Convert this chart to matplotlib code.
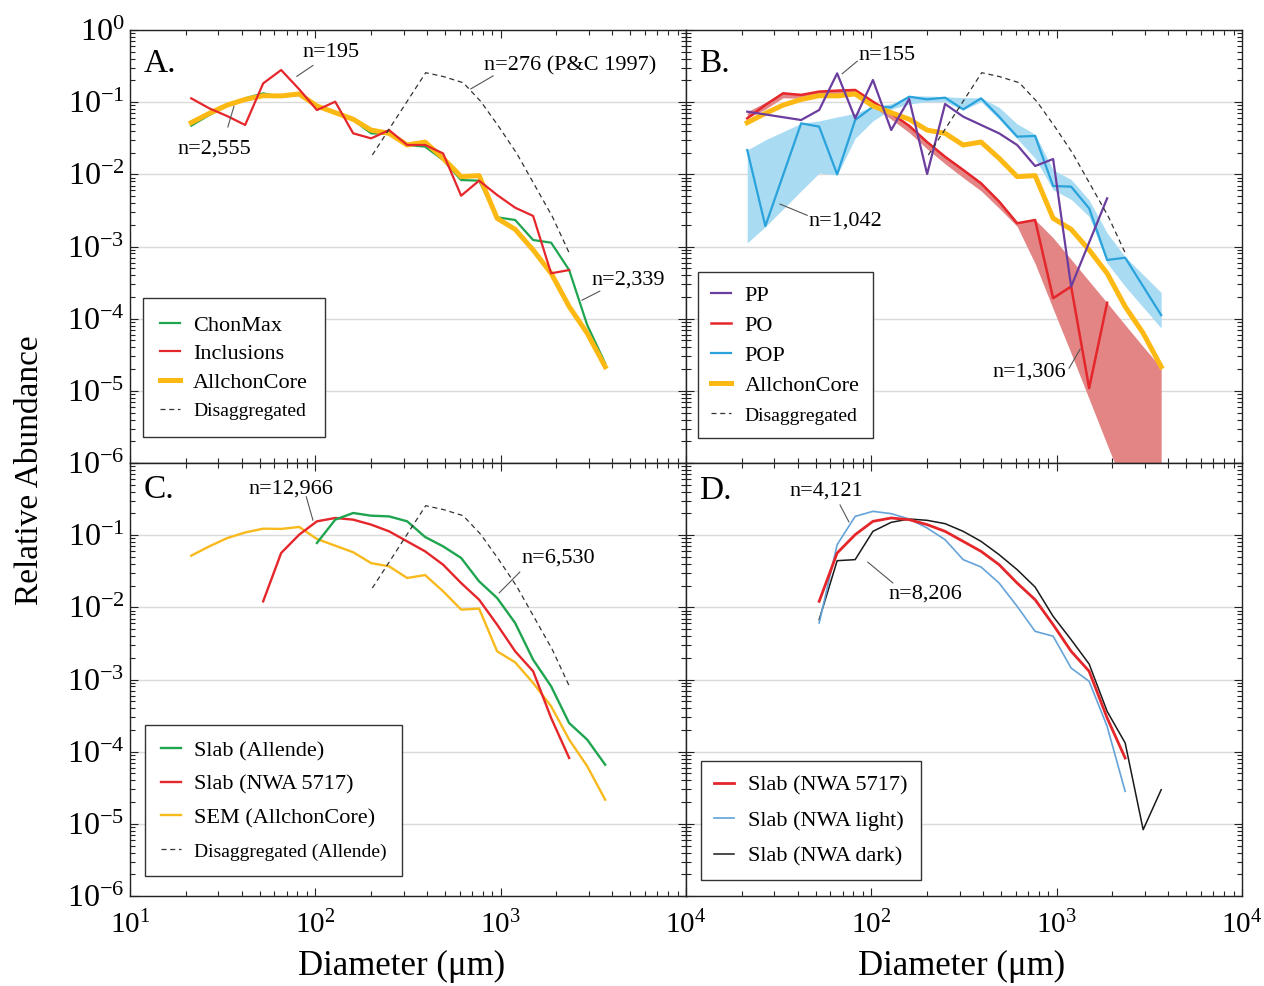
import matplotlib
matplotlib.use("Agg")
import matplotlib.pyplot as plt
from matplotlib.ticker import LogLocator, NullFormatter

plt.rcParams['font.family'] = ['Liberation Serif', 'DejaVu Serif']
plt.rcParams['mathtext.fontset'] = 'custom'
plt.rcParams['mathtext.rm'] = 'Liberation Serif'
plt.rcParams['mathtext.it'] = 'Liberation Serif:italic'
plt.rcParams['mathtext.bf'] = 'Liberation Serif:bold'

# ---------------- data ----------------
# common size bins (um)
bins = [21.4, 26.8, 33.4, 41.8, 52.3, 65.4, 81.8, 102, 128, 160, 200, 250,
        313, 391, 489, 612, 765, 957, 1197, 1497, 1872, 2342, 2929, 3664]

# Panel A
allchon_y = [0.052, 0.070, 0.091, 0.109, 0.123, 0.122, 0.130, 0.0885, 0.0715, 0.058,
             0.041, 0.037, 0.0255, 0.028, 0.0167, 0.0093, 0.0096, 0.00246, 0.00173,
             0.000895, 0.000425, 0.000147, 6.3e-5, 2.16e-5]
chonmax_y = [0.0472, 0.0664, 0.0885, 0.113, 0.1325, 0.119, 0.1257, 0.0885, 0.070, 0.0566,
             0.037, 0.0362, 0.0255, 0.0242, 0.0158, 0.00834, 0.00817, 0.00254, 0.00233,
             0.00123, 0.00113, 0.000472, 8.2e-5, 2.4e-5]
incl_x = bins[:22]
incl_y = [0.113, 0.082, 0.0643, 0.0483, 0.182, 0.279, 0.151, 0.0778, 0.1016, 0.037,
          0.0315, 0.041, 0.0255, 0.0255, 0.0195, 0.00506, 0.00817, 0.00517, 0.00345,
          0.00265, 0.000425, 0.000472]
disagg_x = [203, 394, 492, 628, 783, 977, 1221, 1524, 1901, 2372]
disagg_y = [0.0185, 0.256, 0.226, 0.186, 0.1016, 0.0458, 0.0195, 0.00711, 0.00259, 0.00076]

# Panel B
pp_x = [21.4, 41.8, 52.3, 65.4, 81.8, 102, 128, 160, 200, 250, 313, 391, 489, 612,
        765, 957, 1197, 1872]
pp_y = [0.0739, 0.0566, 0.0779, 0.2509, 0.0597, 0.2029, 0.0411, 0.1106, 0.0101, 0.0944,
        0.063, 0.0483, 0.037, 0.0255, 0.01304, 0.0163, 0.000278, 0.00465]
po_x = bins[:21]
po_y = [0.0597, 0.0914, 0.1327, 0.126, 0.140, 0.1445, 0.1476, 0.1016, 0.070, 0.047,
        0.028, 0.0175, 0.0115, 0.0075, 0.0042, 0.0021, 0.00233, 0.000192, 0.000279,
        1.09e-5, 0.000166]
po_band_hi = [0.074, 0.099, 0.137, 0.131, 0.145, 0.150, 0.153, 0.106, 0.073, 0.049,
              0.029, 0.0182, 0.0120, 0.0078, 0.0044, 0.0022, 0.00235, 0.00132, 0.000663,
              0.000331, 0.000166, 8.2e-5, 4.1e-5, 2.09e-5]
po_band_lo = [0.0597, 0.080, 0.115, 0.113, 0.125, 0.128, 0.130, 0.088, 0.058, 0.038,
              0.0225, 0.0140, 0.0090, 0.0059, 0.0034, 0.0019, 0.00058, 0.000137, 3.3e-5,
              7.7e-6, 1.8e-6, 4.3e-7, 1e-7, 2.4e-8]
pop_x = [21.4, 26.8, 41.8, 52.3, 65.4, 81.8, 102, 128, 160, 200, 250, 313, 391, 489,
         612, 765, 957, 1197, 1497, 1872, 2342, 3664]
pop_y = [0.0217, 0.00192, 0.0509, 0.0458, 0.0100, 0.0566, 0.0866, 0.0848, 0.119, 0.1094,
         0.1155, 0.0796, 0.113, 0.063, 0.0333, 0.034, 0.00689, 0.00675, 0.00338, 0.00065,
         0.0007, 0.000112]
pop_band_hi = [0.0218, 0.030, 0.0509, 0.055, 0.0624, 0.070, 0.088, 0.095, 0.1218, 0.1218,
               0.1192, 0.1154, 0.115, 0.085, 0.050, 0.036, 0.0115, 0.0085, 0.0044,
               0.00154, 0.00072, 0.00023]
pop_band_lo = [0.00112, 0.00188, 0.0059, 0.0104, 0.0098, 0.0316, 0.055, 0.080, 0.0944,
               0.1016, 0.1016, 0.0779, 0.1016, 0.058, 0.031, 0.0167, 0.0061, 0.0045,
               0.0026, 0.00059, 0.00028, 7.4e-5]

# Panel C / D (slab data)
slab_allende_x = bins[7:24]
slab_allende_y = [0.0779, 0.164, 0.2029, 0.1862, 0.182, 0.1555, 0.0944, 0.070, 0.0483,
                  0.0229, 0.01347, 0.00607, 0.00188, 0.000804, 0.000249, 0.000147, 6.6e-5]
slab_nwa_x = bins[4:22]
slab_nwa_y = [0.0121, 0.0566, 0.1016, 0.1555, 0.173, 0.164, 0.140, 0.113, 0.082, 0.0597,
              0.039, 0.0217, 0.01277, 0.00575, 0.00246, 0.0013, 0.000293, 8.17e-5]
nwa_light_x = bins[4:22]
nwa_light_y = [0.00607, 0.0739, 0.182, 0.2138, 0.1986, 0.1675, 0.1257, 0.0866, 0.0458,
               0.0362, 0.0217, 0.01033, 0.00465, 0.00398, 0.00144, 0.000944, 0.000224, 2.82e-5]
nwa_dark_x = bins[4:24]
nwa_dark_y = [0.00675, 0.0443, 0.0458, 0.113, 0.1506, 0.1675, 0.1606, 0.1443, 0.113, 0.082,
              0.0537, 0.0333, 0.0191, 0.0075, 0.00356, 0.00164, 0.000362, 0.000132, 8.3e-6,
              2.97e-5]

yticks = [1e0, 1e-1, 1e-2, 1e-3, 1e-4, 1e-5, 1e-6]
ytick_labels = ['$10^{0}$', '$10^{-1}$', '$10^{-2}$', '$10^{-3}$', '$10^{-4}$',
                '$10^{-5}$', '$10^{-6}$']
xticks = [1e1, 1e2, 1e3, 1e4]
xtick_labels = ['$10^{1}$', '$10^{2}$', '$10^{3}$', '$10^{4}$']

# colours
GREEN = '#1fa44f'
RED = '#e5262b'
YELLOW = '#fdb913'
PURPLE = '#6b3d9e'
BLUE = '#2aa2dc'
BLUE_FILL = '#a9dcf3'
RED_FILL = '#e38585'
LIGHTBLUE = '#64a3da'

# ---------------- figure ----------------
fig = plt.figure(figsize=(12.64, 9.86), dpi=100)
LX, RX = 130 / 1264, 686 / 1264
W = 556 / 1264
H = 433 / 986
TY = 1 - 463 / 986
BY = 1 - 896 / 986
axA = fig.add_axes([LX, TY, W, H])
axB = fig.add_axes([RX, TY, W, H])
axC = fig.add_axes([LX, BY, W, H])
axD = fig.add_axes([RX, BY, W, H])

for ax in (axA, axB, axC, axD):
    ax.set_xscale('log')
    ax.set_yscale('log')
    ax.set_xlim(10, 1e4)
    ax.set_ylim(1e-6, 1)
    ax.set_axisbelow(True)
    ax.grid(axis='y', which='major', color='#dadada', lw=1.0)
    ax.xaxis.set_minor_locator(LogLocator(base=10, subs=range(2, 10), numticks=20))
    ax.yaxis.set_minor_locator(LogLocator(base=10, subs=range(2, 10), numticks=20))
    ax.xaxis.set_minor_formatter(NullFormatter())
    ax.yaxis.set_minor_formatter(NullFormatter())
    ax.set_yticks(yticks)
    ax.set_xticks(xticks)
    ax.tick_params(which='both', direction='in', top=True, right=True, width=0.8,
                   color='#222222')
    ax.tick_params(which='major', length=6)
    ax.tick_params(which='minor', length=3.5)
    for s in ax.spines.values():
        s.set_linewidth(1.0)
        s.set_color('#222222')
    ax.set_yticklabels([])
    ax.set_xticklabels([])

axA.set_yticklabels(ytick_labels)
axC.set_yticklabels([''] + ytick_labels[1:])
axC.set_xticklabels(xtick_labels)
axD.set_xticklabels([''] + xtick_labels[1:])
for ax in (axA, axC):
    ax.tick_params(axis='y', which='major', labelsize=23, pad=4)
for ax in (axC, axD):
    ax.tick_params(axis='x', which='major', labelsize=21, pad=11)

dash = dict(color='#333333', lw=0.9, ls=(0, (4, 3)))

# ---- Panel A ----
axA.plot(bins, chonmax_y, color=GREEN, lw=1.6, label='ChonMax', zorder=3)
axA.plot(bins, allchon_y, color=YELLOW, lw=3.6, label='AllchonCore', zorder=4)
axA.plot(incl_x, incl_y, color=RED, lw=1.6, label='Inclusions', zorder=5)
axA.plot(disagg_x, disagg_y, label='Disaggregated', zorder=6, **dash)

# ---- Panel B ----
axB.fill_between(pop_x, pop_band_lo, pop_band_hi, color=BLUE_FILL, lw=0, zorder=1)
axB.fill_between(bins, po_band_lo, po_band_hi, color=RED_FILL, lw=0, zorder=1.5)
axB.plot(pop_x, pop_y, color=BLUE, lw=1.6, label='POP', zorder=3)
axB.plot(po_x, po_y, color=RED, lw=1.8, label='PO', zorder=4)
axB.plot(bins, allchon_y, color=YELLOW, lw=3.6, label='AllchonCore', zorder=4.5)
axB.plot(pp_x, pp_y, color=PURPLE, lw=1.6, label='PP', zorder=5)
axB.plot(disagg_x, disagg_y, label='Disaggregated', zorder=6, **dash)

# ---- Panel C ----
axC.plot(bins, allchon_y, color='#f8b91c', lw=1.7, label='SEM (AllchonCore)', zorder=3)
axC.plot(slab_nwa_x, slab_nwa_y, color=RED, lw=1.7, label='Slab (NWA 5717)', zorder=4)
axC.plot(slab_allende_x, slab_allende_y, color=GREEN, lw=1.7, label='Slab (Allende)', zorder=5)
axC.plot(disagg_x, disagg_y, label='Disaggregated (Allende)', zorder=6, **dash)

# ---- Panel D ----
axD.plot(nwa_dark_x, nwa_dark_y, color='#1a1a1a', lw=1.1, label='Slab (NWA dark)', zorder=3)
axD.plot(nwa_light_x, nwa_light_y, color=LIGHTBLUE, lw=1.2, label='Slab (NWA light)', zorder=4)
axD.plot(slab_nwa_x, slab_nwa_y, color=RED, lw=2.0, label='Slab (NWA 5717)', zorder=5)


def make_legend(ax, order, anchor, labelspacing, borderpad, small_last):
    handles, labels = ax.get_legend_handles_labels()
    d = dict(zip(labels, handles))
    leg = ax.legend([d[k] for k in order], order, loc='lower left',
                    bbox_to_anchor=anchor, borderaxespad=0, fontsize=16,
                    frameon=True, fancybox=False, framealpha=1,
                    edgecolor='#333333', handlelength=0.9, handletextpad=0.6,
                    labelspacing=labelspacing, borderpad=borderpad)
    leg.get_frame().set_linewidth(1.0)
    if small_last:
        leg.get_texts()[-1].set_fontsize(14)
    leg.set_zorder(10)
    return leg


make_legend(axA, ['ChonMax', 'Inclusions', 'AllchonCore', 'Disaggregated'],
            (0.0234, 0.060), 0.36, 0.75, True)
make_legend(axB, ['PP', 'PO', 'POP', 'AllchonCore', 'Disaggregated'],
            (0.0216, 0.058), 0.42, 0.6, True)
make_legend(axC, ['Slab (Allende)', 'Slab (NWA 5717)', 'SEM (AllchonCore)',
                  'Disaggregated (Allende)'],
            (0.027, 0.046), 0.58, 0.7, True)
make_legend(axD, ['Slab (NWA 5717)', 'Slab (NWA light)', 'Slab (NWA dark)'],
            (0.027, 0.037), 0.68, 0.6, False)


def note(ax, text, tx, ty, x0, y0, x1, y1):
    ax.text(tx, ty, text, transform=ax.transAxes, fontsize=16, ha='center',
            va='center', zorder=7)
    ax.plot([x0, x1], [y0, y1], transform=ax.transAxes, color='#555555', lw=0.8,
            zorder=7)


note(axA, 'n=195', 0.3615, 0.947, 0.300, 0.893, 0.329, 0.918)
note(axA, 'n=2,555', 0.151, 0.725, 0.176, 0.776, 0.187, 0.824)
note(axA, 'n=276 (P&C 1997)', 0.791, 0.917, 0.613, 0.864, 0.653, 0.894)
note(axA, 'n=2,339', 0.896, 0.423, 0.813, 0.376, 0.845, 0.397)

note(axB, 'n=155', 0.362, 0.942, 0.281, 0.899, 0.308, 0.928)
note(axB, 'n=1,042', 0.286, 0.559, 0.169, 0.598, 0.218, 0.572)
note(axB, 'n=1,306', 0.617, 0.210, 0.689, 0.219, 0.709, 0.263)

note(axC, 'n=12,966', 0.290, 0.940, 0.317, 0.922, 0.329, 0.868)
note(axC, 'n=6,530', 0.771, 0.781, 0.664, 0.700, 0.701, 0.748)

note(axD, 'n=4,121', 0.252, 0.935, 0.277, 0.903, 0.293, 0.864)
note(axD, 'n=8,206', 0.430, 0.697, 0.327, 0.771, 0.372, 0.723)

for ax, lab, fy in ((axA, 'A.', 0.922), (axB, 'B.', 0.922), (axC, 'C.', 0.938),
                    (axD, 'D.', 0.936)):
    ax.text(0.024, fy, lab, transform=ax.transAxes, fontsize=24, ha='left',
            va='center', zorder=7)

fig.text(30 / 1264, 1 - 470 / 986, 'Relative Abundance', rotation=90, fontsize=24,
         ha='center', va='center')
fig.text(402 / 1264, 1 - 966 / 986, 'Diameter (μm)', fontsize=25, ha='center',
         va='center')
fig.text(962 / 1264, 1 - 966 / 986, 'Diameter (μm)', fontsize=25, ha='center',
         va='center')

fig.savefig('out.png', dpi=100)
